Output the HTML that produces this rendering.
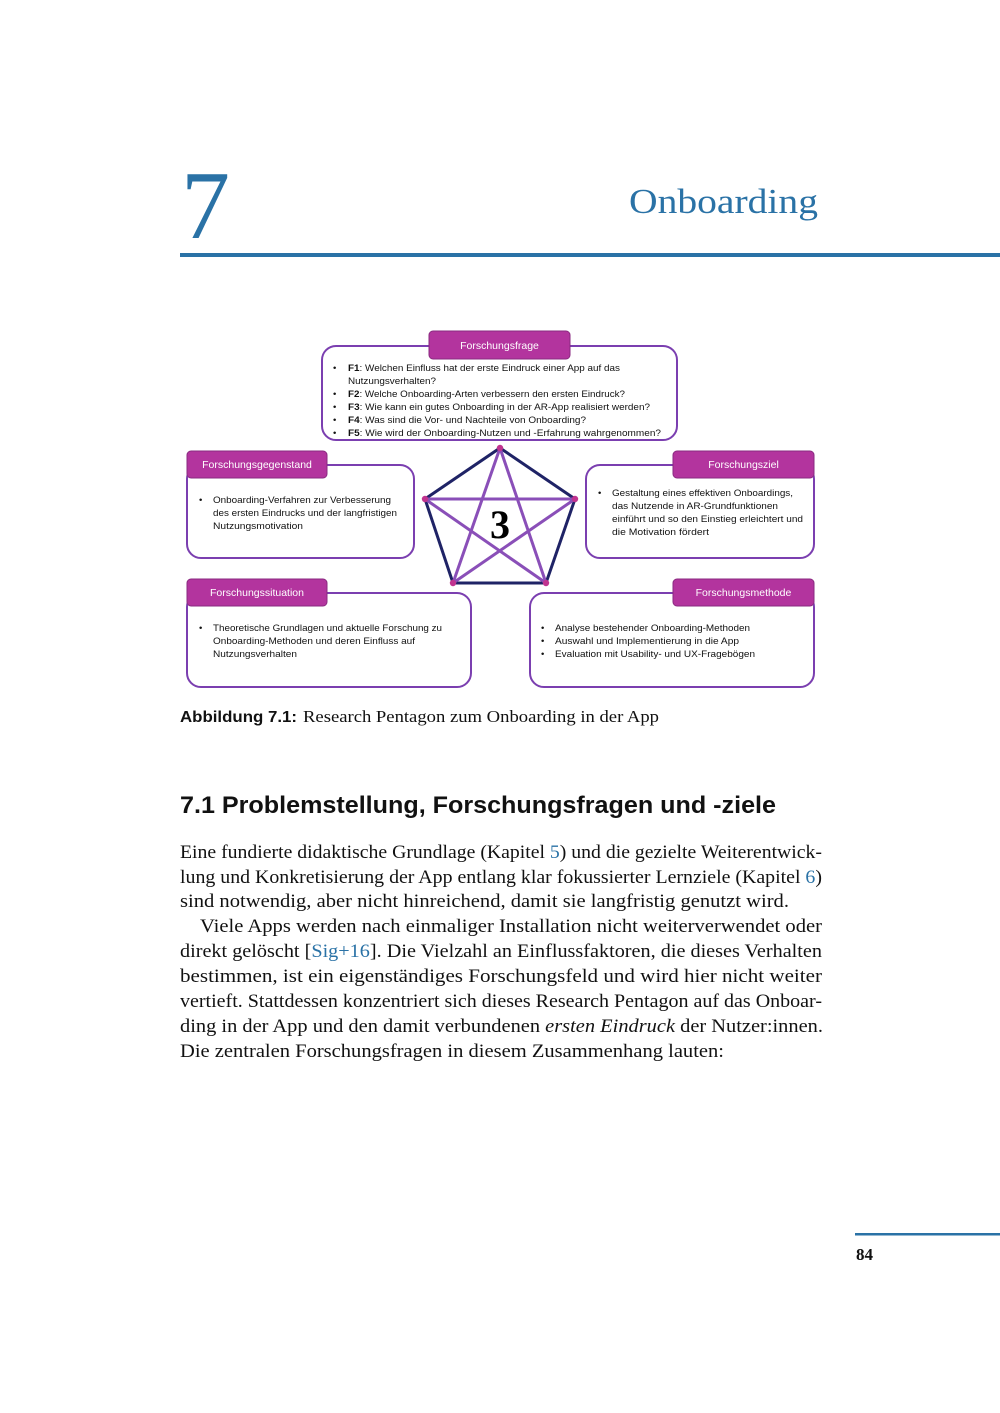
<!DOCTYPE html>
<html><head><meta charset="utf-8"><style>html,body{margin:0;padding:0;background:#fff}svg{display:block}</style></head>
<body>
<svg width="1000" height="1413" viewBox="0 0 1000 1413" xmlns="http://www.w3.org/2000/svg">
<rect width="1000" height="1413" fill="#fff"/>
<text x="181" y="238" font-family="Liberation Serif, serif" font-size="98" fill="#2a72a6">7</text>
<text x="629" y="213" font-family="Liberation Serif, serif" font-size="35" fill="#2a72a6" textLength="189" lengthAdjust="spacingAndGlyphs">Onboarding</text>
<rect x="180" y="253" width="820" height="4" fill="#2a72a6"/>

<g fill="#fff" stroke="#7b3fb0" stroke-width="2">
<rect x="322" y="346" width="355" height="94" rx="14"/>
<rect x="187" y="465" width="227" height="93" rx="14"/>
<rect x="586" y="465" width="228" height="93" rx="14"/>
<rect x="187" y="593" width="284" height="94" rx="14"/>
<rect x="530" y="593" width="284" height="94" rx="14"/>
</g>
<g fill="#b3349e" stroke="#8a2a80" stroke-width="1">
<rect x="429" y="331" width="141" height="28" rx="4"/>
<rect x="187" y="451" width="140" height="27" rx="4"/>
<rect x="673" y="451" width="141" height="27" rx="4"/>
<rect x="187" y="579" width="140" height="27" rx="4"/>
<rect x="673" y="579" width="141" height="27" rx="4"/>
</g>
<g font-family="Liberation Sans, sans-serif" font-size="10.5" fill="#fff" text-anchor="middle">
<text x="499.5" y="349">Forschungsfrage</text>
<text x="257" y="468">Forschungsgegenstand</text>
<text x="743.5" y="468">Forschungsziel</text>
<text x="257" y="596">Forschungssituation</text>
<text x="743.5" y="596">Forschungsmethode</text>
</g>

<g font-family="Liberation Sans, sans-serif" font-size="9.5" fill="#111">
<text x="333" y="371">•</text><text x="348" y="371" textLength="272" lengthAdjust="spacingAndGlyphs"><tspan font-weight="bold">F1</tspan>: Welchen Einfluss hat der erste Eindruck einer App auf das</text>
<text x="348" y="384" textLength="88" lengthAdjust="spacingAndGlyphs">Nutzungsverhalten?</text>
<text x="333" y="397">•</text><text x="348" y="397" textLength="277" lengthAdjust="spacingAndGlyphs"><tspan font-weight="bold">F2</tspan>: Welche Onboarding-Arten verbessern den ersten Eindruck?</text>
<text x="333" y="410">•</text><text x="348" y="410" textLength="302" lengthAdjust="spacingAndGlyphs"><tspan font-weight="bold">F3</tspan>: Wie kann ein gutes Onboarding in der AR-App realisiert werden?</text>
<text x="333" y="423">•</text><text x="348" y="423" textLength="238" lengthAdjust="spacingAndGlyphs"><tspan font-weight="bold">F4</tspan>: Was sind die Vor- und Nachteile von Onboarding?</text>
<text x="333" y="436">•</text><text x="348" y="436" textLength="313" lengthAdjust="spacingAndGlyphs"><tspan font-weight="bold">F5</tspan>: Wie wird der Onboarding-Nutzen und -Erfahrung wahrgenommen?</text>
<text x="199" y="503">•</text><text x="213" y="503" textLength="178" lengthAdjust="spacingAndGlyphs">Onboarding-Verfahren zur Verbesserung</text>
<text x="213" y="516" textLength="184" lengthAdjust="spacingAndGlyphs">des ersten Eindrucks und der langfristigen</text>
<text x="213" y="529" textLength="90" lengthAdjust="spacingAndGlyphs">Nutzungsmotivation</text>
<text x="598" y="496">•</text><text x="612" y="496" textLength="181" lengthAdjust="spacingAndGlyphs">Gestaltung eines effektiven Onboardings,</text>
<text x="612" y="509" textLength="166" lengthAdjust="spacingAndGlyphs">das Nutzende in AR-Grundfunktionen</text>
<text x="612" y="522" textLength="191" lengthAdjust="spacingAndGlyphs">einführt und so den Einstieg erleichtert und</text>
<text x="612" y="535" textLength="97" lengthAdjust="spacingAndGlyphs">die Motivation fördert</text>
<text x="199" y="631">•</text><text x="213" y="631" textLength="229" lengthAdjust="spacingAndGlyphs">Theoretische Grundlagen und aktuelle Forschung zu</text>
<text x="213" y="644" textLength="202" lengthAdjust="spacingAndGlyphs">Onboarding-Methoden und deren Einfluss auf</text>
<text x="213" y="657" textLength="84" lengthAdjust="spacingAndGlyphs">Nutzungsverhalten</text>
<text x="541" y="631">•</text><text x="555" y="631" textLength="195" lengthAdjust="spacingAndGlyphs">Analyse bestehender Onboarding-Methoden</text>
<text x="541" y="644">•</text><text x="555" y="644" textLength="184" lengthAdjust="spacingAndGlyphs">Auswahl und Implementierung in die App</text>
<text x="541" y="657">•</text><text x="555" y="657" textLength="200" lengthAdjust="spacingAndGlyphs">Evaluation mit Usability- und UX-Fragebögen</text>
</g>

<g stroke-width="3" fill="none" stroke-linecap="round">
<polygon points="500,448 575,499 546,583 453,583 425,499" stroke="#1f2366"/>
<g stroke="#8a4fb8">
<line x1="500" y1="448" x2="453" y2="583"/>
<line x1="500" y1="448" x2="546" y2="583"/>
<line x1="425" y1="499" x2="575" y2="499"/>
<line x1="425" y1="499" x2="546" y2="583"/>
<line x1="575" y1="499" x2="453" y2="583"/>
</g>
</g>
<g fill="#c0338f">
<circle cx="500" cy="448" r="3.2"/><circle cx="575" cy="499" r="3.2"/><circle cx="546" cy="583" r="3.2"/><circle cx="453" cy="583" r="3.2"/><circle cx="425" cy="499" r="3.2"/>
</g>
<text x="500" y="538" text-anchor="middle" font-family="Liberation Serif, serif" font-weight="bold" font-size="40" fill="#000">3</text>

<text x="180" y="722" font-family="Liberation Sans, sans-serif" font-weight="bold" font-size="16" fill="#111" textLength="117" lengthAdjust="spacingAndGlyphs">Abbildung 7.1:</text>
<text x="303" y="722" font-family="Liberation Serif, serif" font-size="17" fill="#111" textLength="356" lengthAdjust="spacingAndGlyphs">Research Pentagon zum Onboarding in der App</text>

<text x="180" y="813" font-family="Liberation Sans, sans-serif" font-weight="bold" font-size="24" fill="#111" textLength="596" lengthAdjust="spacingAndGlyphs">7.1  Problemstellung, Forschungsfragen und -ziele</text>

<g font-family="Liberation Serif, serif" font-size="18.5" fill="#111">
<text x="180" y="858" textLength="642" lengthAdjust="spacingAndGlyphs">Eine fundierte didaktische Grundlage (Kapitel <tspan fill="#2a72a6">5</tspan>) und die gezielte Weiterentwick-</text>
<text x="180" y="883" textLength="642" lengthAdjust="spacingAndGlyphs">lung und Konkretisierung der App entlang klar fokussierter Lernziele (Kapitel <tspan fill="#2a72a6">6</tspan>)</text>
<text x="180" y="907" textLength="609" lengthAdjust="spacingAndGlyphs">sind notwendig, aber nicht hinreichend, damit sie langfristig genutzt wird.</text>
<text x="200" y="932" textLength="622" lengthAdjust="spacingAndGlyphs">Viele Apps werden nach einmaliger Installation nicht weiterverwendet oder</text>
<text x="180" y="957" textLength="642" lengthAdjust="spacingAndGlyphs">direkt gelöscht [<tspan fill="#2a72a6">Sig+16</tspan>]. Die Vielzahl an Einflussfaktoren, die dieses Verhalten</text>
<text x="180" y="982" textLength="642" lengthAdjust="spacingAndGlyphs">bestimmen, ist ein eigenständiges Forschungsfeld und wird hier nicht weiter</text>
<text x="180" y="1007" textLength="642" lengthAdjust="spacingAndGlyphs">vertieft. Stattdessen konzentriert sich dieses Research Pentagon auf das Onboar-</text>
<text x="180" y="1032" textLength="643" lengthAdjust="spacingAndGlyphs">ding in der App und den damit verbundenen <tspan font-style="italic">ersten Eindruck</tspan> der Nutzer:innen.</text>
<text x="180" y="1057" textLength="544" lengthAdjust="spacingAndGlyphs">Die zentralen Forschungsfragen in diesem Zusammenhang lauten:</text>
</g>

<rect x="855" y="1233" width="145" height="2.5" fill="#2a72a6"/>
<text x="856" y="1260" font-family="Liberation Serif, serif" font-weight="bold" font-size="17" fill="#111">84</text>
</svg>
</body></html>
